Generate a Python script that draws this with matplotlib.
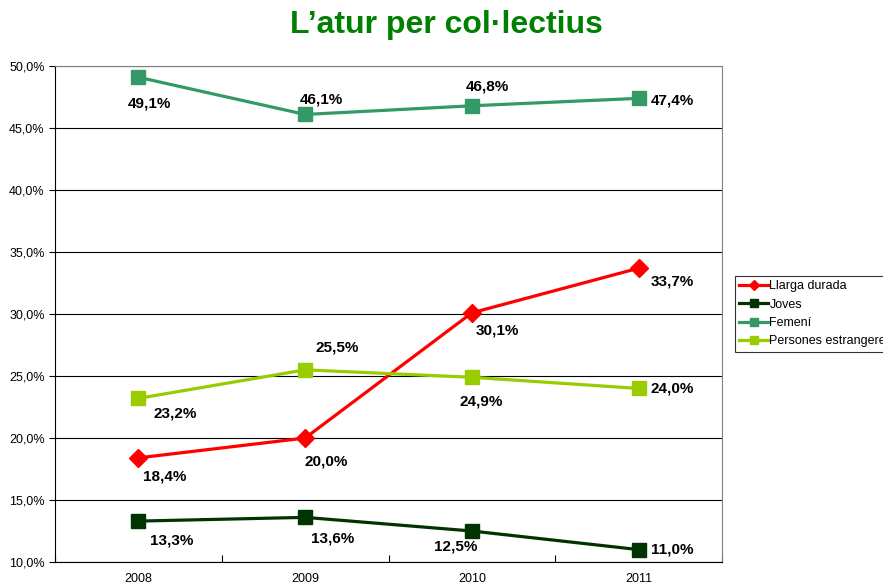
import numpy as np
import matplotlib.pyplot as plt
from matplotlib.ticker import FuncFormatter

plt.rcParams['font.family'] = ['Liberation Sans', 'DejaVu Sans']

years = ['2008', '2009', '2010', '2011']
llarga = [18.4, 20.0, 30.1, 33.7]
joves = [13.3, 13.6, 12.5, 11.0]
femeni = [49.1, 46.1, 46.8, 47.4]
estrangeres = [23.2, 25.5, 24.9, 24.0]

# label offsets in pixels (dx, dy), converted to points below
off_llarga = [(26, -19), (21, -23), (25, -18), (34, -13)]
off_joves = [(33, -19), (27, -21), (-16, -15), (34, 0)]
off_femeni = [(11, -26), (16, 15), (15, 19), (34, -2)]
off_estr = [(37, -15), (32, 22), (9, -24), (34, 0)]

fig = plt.figure(figsize=(8.83, 5.85), dpi=100)
ax = fig.add_axes([0.0623, 0.0393, 0.7554, 0.8477])

x = np.arange(len(years)) + 0.5
series = [
    ('Llarga durada', llarga, '#ff0000', 'D', 9, off_llarga),
    ('Joves', joves, '#003300', 's', 10.5, off_joves),
    ('Femení', femeni, '#339966', 's', 10.5, off_femeni),
    ('Persones estrangeres', estrangeres, '#99cc00', 's', 10.5, off_estr),
]
for name, vals, col, mk, ms, offs in series:
    ax.plot(x, vals, color=col, lw=2.3, marker=mk, ms=ms, label=name, zorder=3)
    for xi, v, o in zip(x, vals, offs):
        ax.annotate(('%.1f%%' % v).replace('.', ','), (xi, v),
                    xytext=(o[0] * 0.72, o[1] * 0.72),
                    textcoords='offset points', ha='center', va='center',
                    fontsize=11, fontweight='bold', zorder=4)

ax.set_xlim(0, 4)
ax.set_ylim(10, 50)
ax.set_yticks(np.arange(10, 51, 5))
ax.yaxis.set_major_formatter(FuncFormatter(lambda v, p: ('%.1f%%' % v).replace('.', ',')))
ax.set_xticks(np.arange(0, 5))
ax.set_xticklabels([])
ax.set_xticks(x, minor=True)
ax.set_xticklabels(years, minor=True)
ax.tick_params(axis='x', which='minor', length=0, labelsize=9, pad=8)
ax.tick_params(axis='x', which='major', length=5, direction='in')
ax.tick_params(axis='y', labelsize=9, length=4, direction='out')
ax.grid(axis='y', color='black', lw=0.8)
ax.set_axisbelow(True)
for s in ['top', 'right']:
    ax.spines[s].set_color('#808080')
for s in ['left', 'bottom']:
    ax.spines[s].set_color('black')

leg = fig.legend(loc='upper left', bbox_to_anchor=(735 / 883, 1 - 276 / 585),
                 fontsize=9, frameon=True, fancybox=False, edgecolor='black',
                 handlelength=2.3, handletextpad=0.1, borderpad=0.35,
                 labelspacing=0.5, borderaxespad=0, markerscale=0.55)
leg.get_frame().set_linewidth(0.8)

fig.text(0.506, 1 - 33 / 585, 'L\u2019atur per col\u00b7lectius', ha='center', va='baseline',
         fontsize=23, fontweight='bold', color='#008000')

fig.savefig('out.png', dpi=100)
